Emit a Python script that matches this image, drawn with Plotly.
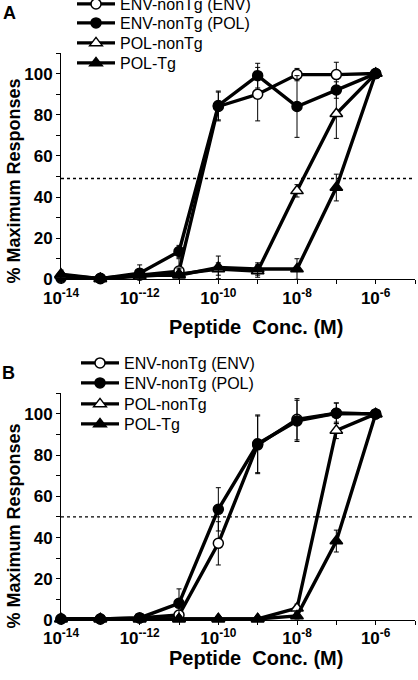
import plotly.graph_objects as go

# ---------------- data ----------------
conc = [1e-14, 1e-13, 1e-12, 1e-11, 1e-10, 1e-9, 1e-8, 1e-7, 1e-6]
series_names = ["ENV-nonTg (ENV)", "ENV-nonTg (POL)", "POL-nonTg", "POL-Tg"]

# Panel A
a_env_env = [0.5, 0.5, 2, 4, 84, 90, 99.5, 99.5, 100]
a_env_env_err = [1, 1, 2, 6, 7, 13, 3, 6, 0]
a_env_pol = [1, 0.3, 3, 13.5, 84.5, 99, 84, 92, 100]
a_env_pol_err = [1, 1, 2, 3, 7, 6, 15, 4, 0]
a_pol_non = [2, 0.3, 1.5, 2.5, 5, 4, 43, 80.5, 100]
a_pol_non_err = [2, 1, 2, 3, 3, 3, 3, 12, 0]
a_pol_tg = [2.5, 0.3, 2, 2, 5.8, 5, 5, 44.6, 100]
a_pol_tg_err = [2, 1, 5, 3, 5.5, 3, 5, 6.5, 0]

# Panel B
b_env_env = [0.5, 0.5, 1, 2.4, 37.2, 85, 97.4, 100.3, 100]
b_env_env_err = [0.5, 0.5, 1, 1.5, 10.5, 14, 10, 5, 0]
b_env_pol = [0.5, 0.5, 1, 8.1, 53.7, 85.5, 96.6, 100.3, 100]
b_env_pol_err = [0.5, 0.5, 1, 7, 10.5, 14, 10, 5, 0]
b_pol_non = [0.5, 0.5, 0.5, 0.5, 0.5, 0.5, 5.7, 92, 100]
b_pol_non_err = [0.5, 0.5, 0.5, 0.5, 0.5, 0.5, 2, 4, 0]
b_pol_tg = [0.5, 0.5, 0.5, 0.5, 0.5, 0.5, 2, 38.3, 100]
b_pol_tg_err = [0.5, 0.5, 0.5, 0.5, 0.5, 0.5, 1.5, 5.3, 0]

half_max_a = 49
half_max_b = 50

x_tick_vals = [1e-14, 1e-13, 1e-12, 1e-11, 1e-10, 1e-9, 1e-8, 1e-7, 1e-6, 1e-5]
x_tick_text = ["10<sup>-14</sup>", "", "10<sup>--12</sup>", "", "10<sup>-10</sup>", "",
               "10<sup>-8</sup>", "", "10<sup>-6</sup>", ""]
y_tick_vals = [0, 10, 20, 30, 40, 50, 60, 70, 80, 90, 100, 110]
y_tick_text = ["0", "", "20", "", "40", "", "60", "", "80", "", "100", ""]

# ---------------- layout helpers ----------------
W, H = 418, 680
ML, MR, MT, MB = 61, 3, 53, 60
PW, PH = W - ML - MR, H - MT - MB


def px_x(px):
    return (px - ML) / PW


def px_y(py):
    return (H - MB - py) / PH


FONT = "Liberation Sans, Arial, Helvetica, sans-serif"

symbols = ["circle", "circle", "triangle-up", "triangle-up"]
fills = ["white", "black", "white", "black"]
sizes = [10, 10, 11, 11]

panels = [
    ("x", "y", [a_env_env, a_env_pol, a_pol_non, a_pol_tg],
     [a_env_env_err, a_env_pol_err, a_pol_non_err, a_pol_tg_err],
     [4, 23, 43, 63], 72),
    ("x2", "y2", [b_env_env, b_env_pol, b_pol_non, b_pol_tg],
     [b_env_env_err, b_env_pol_err, b_pol_non_err, b_pol_tg_err],
     [363, 383, 404, 424], 76),
]

fig = go.Figure()
legend_layouts = {}
li = 0
for xa, ya, vals, errs, rows, lx in panels:
    for k in range(4):
        li += 1
        lname = "legend" if li == 1 else f"legend{li}"
        fig.add_trace(go.Scatter(
            x=conc, y=vals[k], name=series_names[k], xaxis=xa, yaxis=ya,
            mode="lines+markers", cliponaxis=False, legend=lname,
            line=dict(color="black", width=3.4),
            marker=dict(symbol=symbols[k], size=sizes[k], color=fills[k],
                        line=dict(color="black", width=1.5)),
            error_y=dict(type="data", array=errs[k], visible=True,
                         color="black", thickness=1, width=2.5),
        ))
        legend_layouts[lname] = dict(
            x=px_x(lx), xref="paper", xanchor="left",
            y=px_y(rows[k]), yref="paper", yanchor="middle",
            bgcolor="rgba(0,0,0,0)", borderwidth=0, itemwidth=38,
            font=dict(family=FONT, size=16, color="black"),
            itemclick=False, itemdoubleclick=False,
        )

axis_common = dict(
    showline=True, linecolor="black", linewidth=1, ticks="outside",
    ticklen=4, tickwidth=1, tickcolor="black", showgrid=False, zeroline=False,
)
xtickfont = dict(family=FONT, size=17, color="black", weight="bold")
ytickfont = dict(family=FONT, size=17, color="black", weight="bold")

fig.update_layout(
    width=W, height=H,
    margin=dict(l=ML, r=MR, t=MT, b=MB, autoexpand=False),
    paper_bgcolor="white", plot_bgcolor="white",
    showlegend=True,
    xaxis=dict(type="log", range=[-14, -5], domain=[0, 1], anchor="y",
               tickmode="array", tickvals=x_tick_vals, ticktext=x_tick_text,
               tickfont=xtickfont, ticklabelstandoff=-1, **axis_common),
    yaxis=dict(range=[0, 110], domain=[px_y(279.3), 1], anchor="x",
               tickmode="array", tickvals=y_tick_vals, ticktext=y_tick_text,
               tickfont=ytickfont, **axis_common),
    xaxis2=dict(type="log", range=[-14, -5], domain=[0, 1], anchor="y2",
                tickmode="array", tickvals=x_tick_vals, ticktext=x_tick_text,
                tickfont=xtickfont, ticklabelstandoff=-1, **axis_common),
    yaxis2=dict(range=[0, 110], domain=[0, px_y(393.3)], anchor="x2",
                tickmode="array", tickvals=y_tick_vals, ticktext=y_tick_text,
                tickfont=ytickfont, **axis_common),
    **legend_layouts,
)

# half-maximum dotted lines
fig.add_shape(type="line", xref="x domain", yref="y", x0=0, x1=1,
              y0=half_max_a, y1=half_max_a, line=dict(color="black", width=1.3, dash="dot"))
fig.add_shape(type="line", xref="x2 domain", yref="y2", x0=0, x1=1,
              y0=half_max_b, y1=half_max_b, line=dict(color="black", width=1.3, dash="dot"))

title_font = dict(family=FONT, size=18, color="black", weight="bold")
annots = [
    dict(text="A", x=px_x(9), y=px_y(13), font=dict(family=FONT, size=18, color="black", weight="bold")),
    dict(text="B", x=px_x(8.5), y=px_y(373), font=dict(family=FONT, size=18, color="black", weight="bold")),
    dict(text="Peptide\u00a0\u00a0Conc. (M)", x=px_x(256), y=px_y(327.5),
         font=dict(family=FONT, size=20, color="black", weight="bold")),
    dict(text="Peptide\u00a0\u00a0Conc. (M)", x=px_x(256), y=px_y(658),
         font=dict(family=FONT, size=20, color="black", weight="bold")),
    dict(text="% Maximum Responses", x=px_x(13.5), y=px_y(181), textangle=-90, font=title_font),
    dict(text="% Maximum Responses", x=px_x(13.5), y=px_y(526), textangle=-90, font=title_font),
]
for a in annots:
    fig.add_annotation(xref="paper", yref="paper", showarrow=False,
                       xanchor="center", yanchor="middle", **a)

fig.write_html("out.html")
